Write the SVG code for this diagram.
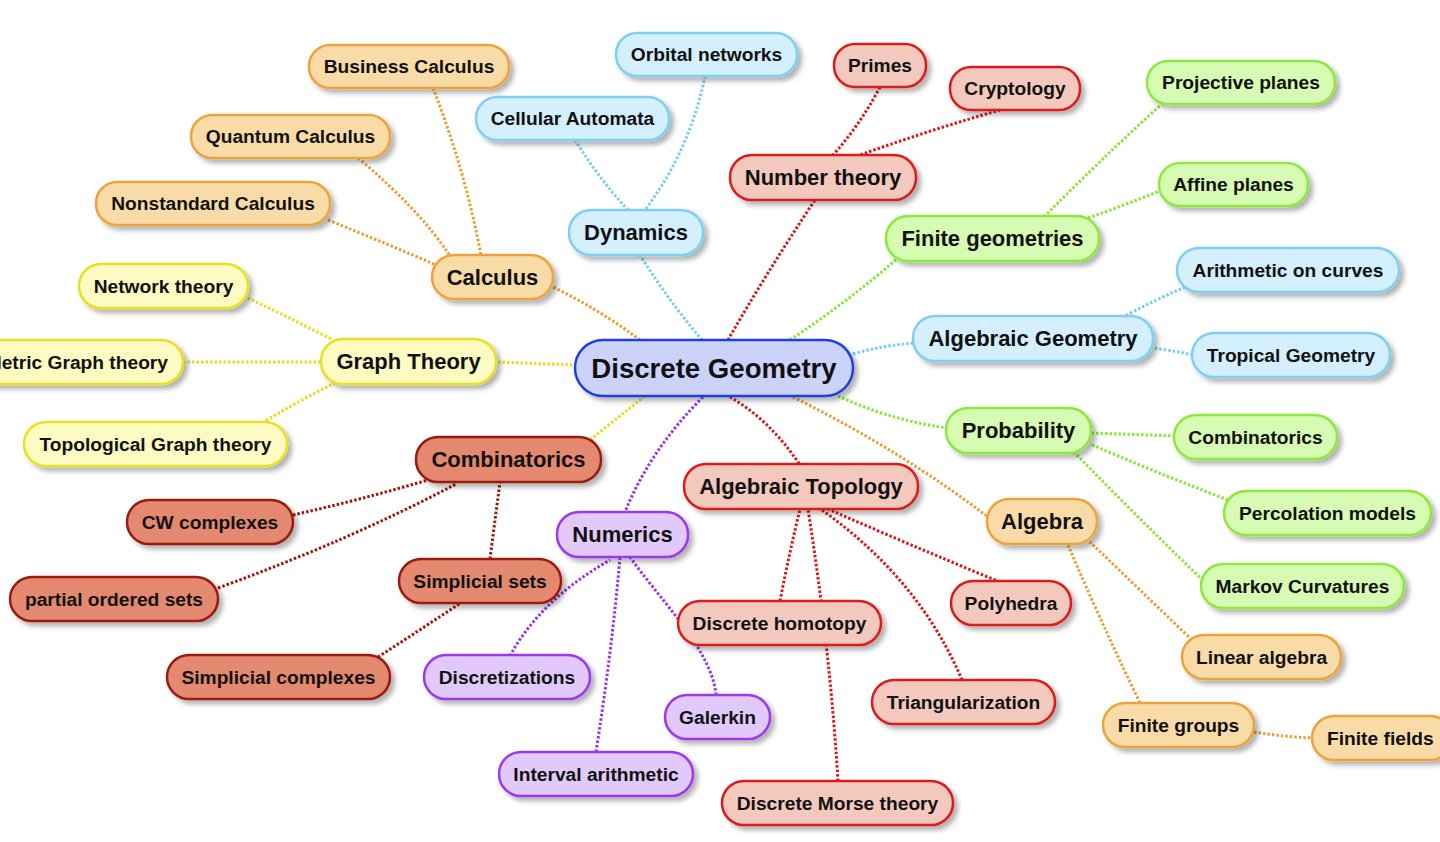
<svg xmlns="http://www.w3.org/2000/svg" width="1440" height="842" viewBox="0 0 1440 842">
<defs>
<filter id="sh" x="-20%" y="-30%" width="140%" height="170%">
<feDropShadow dx="4" dy="4" stdDeviation="2.5" flood-color="#000" flood-opacity="0.3"/>
</filter>
<style>
rect{stroke-width:2.5;filter:url(#sh)}
text{font-family:"Liberation Sans",Arial,sans-serif;font-weight:bold;fill:#111;text-anchor:middle}
.t0{font-size:27.6px}
.t1{font-size:22px}
.t2{font-size:19.2px}
.c rect{fill:#ccd3fb;stroke:#1f3fe0}
.y rect{fill:#fdfbc2;stroke:#e8e020}
.o rect{fill:#f9dba8;stroke:#eba43a}
.b rect{fill:#d4effd;stroke:#7fcff3}
.r rect{fill:#f3c8bd;stroke:#dc1a1a}
.d rect{fill:#e48870;stroke:#981c10}
.g rect{fill:#d6fbb2;stroke:#8ee83a}
.p rect{fill:#e2c9fb;stroke:#9b38f0}
#connectors path{fill:none;stroke-width:3;stroke-dasharray:2.5 2}
.ky{stroke:#e6dd1c}.ko{stroke:#e9a033}.kb{stroke:#7ccbf0}.kr{stroke:#d81818}.kd{stroke:#9a1a12}.kg{stroke:#86e83a}.kp{stroke:#9933ee}
</style>
</defs>
<rect x="0" y="0" width="1440" height="842" fill="#fff" style="filter:none;stroke:none"/>
<g id="connectors">
<path class="ko" d="M640,340 Q600,310 553,287"/>
<path class="kb" d="M702,340 Q668,300 640,255"/>
<path class="kr" d="M728,340 Q765,275 815,200"/>
<path class="kg" d="M790,340 Q850,300 898,258"/>
<path class="kb" d="M853,354 Q885,345 914,343"/>
<path class="kg" d="M838,396 Q890,420 947,428"/>
<path class="ko" d="M793,397 Q900,450 988,517"/>
<path class="kr" d="M730,397 Q770,420 800,465"/>
<path class="kp" d="M703,397 Q650,450 625,512"/>
<path class="ky" d="M645,396 Q615,420 590,440"/>
<path class="ky" d="M577,365 L496,362"/>
<path class="ko" d="M433,88 Q465,170 481,255"/>
<path class="ko" d="M358,158 Q420,210 450,256"/>
<path class="ko" d="M328,220 Q390,245 436,265"/>
<path class="kb" d="M705,76 Q690,150 645,210"/>
<path class="kb" d="M575,140 Q600,180 628,210"/>
<path class="kr" d="M880,87 Q860,125 833,155"/>
<path class="kr" d="M1000,110 Q930,130 860,155"/>
<path class="kg" d="M1163,103 Q1100,160 1045,216"/>
<path class="kg" d="M1162,190 Q1125,205 1088,218"/>
<path class="kb" d="M1185,287 Q1155,300 1125,316"/>
<path class="kb" d="M1193,355 Q1170,350 1153,348"/>
<path class="kg" d="M1175,436 L1092,433"/>
<path class="kg" d="M1228,500 Q1150,470 1090,444"/>
<path class="kg" d="M1213,590 Q1140,520 1075,453"/>
<path class="ko" d="M1192,640 Q1140,590 1090,542"/>
<path class="ko" d="M1140,703 Q1100,620 1068,545"/>
<path class="ko" d="M1254,732 Q1285,737 1314,738"/>
<path class="kr" d="M780,601 Q790,550 800,509"/>
<path class="kr" d="M838,781 Q830,650 808,509"/>
<path class="kr" d="M1000,582 Q910,545 828,509"/>
<path class="kr" d="M962,680 Q920,580 822,510"/>
<path class="kp" d="M510,656 Q540,600 610,560"/>
<path class="kp" d="M596,752 Q612,650 620,557"/>
<path class="kp" d="M716,695 C712,650 660,600 630,557"/>
<path class="kd" d="M490,559 Q495,520 500,482"/>
<path class="kd" d="M218,588 Q350,540 456,484"/>
<path class="kd" d="M293,515 Q360,500 428,480"/>
<path class="kd" d="M378,657 Q420,630 462,602"/>
<path class="ky" d="M248,298 Q290,318 333,340"/>
<path class="ky" d="M183,362 L321,362"/>
<path class="ky" d="M262,423 Q300,400 335,383"/>
</g>

<g id="discrete-geometry" class="c"><rect x="575" y="340" width="278" height="56" rx="28"/><text class="t0" x="714" y="377.5">Discrete Geometry</text></g>

<g id="calculus" class="o"><rect x="432" y="255" width="121" height="44" rx="22"/><text class="t1" x="492.5" y="284.5">Calculus</text></g>
<g id="dynamics" class="b"><rect x="569" y="210" width="134" height="45" rx="22"/><text class="t1" x="636" y="240">Dynamics</text></g>
<g id="number-theory" class="r"><rect x="730" y="155" width="186" height="45" rx="22"/><text class="t1" x="823" y="185">Number theory</text></g>
<g id="finite-geometries" class="g"><rect x="886" y="216" width="213" height="45" rx="22"/><text class="t1" x="992.5" y="246">Finite geometries</text></g>
<g id="algebraic-geometry" class="b"><rect x="913" y="316" width="240" height="45" rx="22"/><text class="t1" x="1033" y="346">Algebraic Geometry</text></g>
<g id="probability" class="g"><rect x="946" y="408" width="145" height="45" rx="22"/><text class="t1" x="1018.5" y="438">Probability</text></g>
<g id="algebra" class="o"><rect x="987" y="499" width="110" height="45" rx="22"/><text class="t1" x="1042" y="529">Algebra</text></g>
<g id="algebraic-topology" class="r"><rect x="684" y="464" width="234" height="45" rx="22"/><text class="t1" x="801" y="494">Algebraic Topology</text></g>
<g id="numerics" class="p"><rect x="557" y="512" width="131" height="45" rx="22"/><text class="t1" x="622.5" y="542">Numerics</text></g>
<g id="combinatorics" class="d"><rect x="416" y="437" width="185" height="45" rx="22"/><text class="t1" x="508.5" y="467">Combinatorics</text></g>
<g id="graph-theory" class="y"><rect x="321" y="339" width="175" height="45" rx="22"/><text class="t1" x="408.5" y="369">Graph Theory</text></g>

<g id="business-calculus" class="o"><rect x="309" y="45" width="200" height="43" rx="21"/><text class="t2" x="409" y="73">Business Calculus</text></g>
<g id="quantum-calculus" class="o"><rect x="191" y="115" width="199" height="43" rx="21"/><text class="t2" x="290.5" y="143">Quantum Calculus</text></g>
<g id="nonstandard-calculus" class="o"><rect x="96" y="182" width="234" height="43" rx="21"/><text class="t2" x="213" y="210">Nonstandard Calculus</text></g>
<g id="orbital-networks" class="b"><rect x="616" y="33" width="181" height="43" rx="21"/><text class="t2" x="706.5" y="61">Orbital networks</text></g>
<g id="cellular-automata" class="b"><rect x="476" y="97" width="193" height="43" rx="21"/><text class="t2" x="572.5" y="125">Cellular Automata</text></g>
<g id="primes" class="r"><rect x="834" y="44" width="92" height="43" rx="21"/><text class="t2" x="880" y="72">Primes</text></g>
<g id="cryptology" class="r"><rect x="950" y="67" width="130" height="43" rx="21"/><text class="t2" x="1015" y="95">Cryptology</text></g>
<g id="projective-planes" class="g"><rect x="1147" y="61" width="188" height="43" rx="21"/><text class="t2" x="1241" y="89">Projective planes</text></g>
<g id="affine-planes" class="g"><rect x="1159" y="163" width="149" height="43" rx="21"/><text class="t2" x="1233.5" y="191">Affine planes</text></g>
<g id="arithmetic-on-curves" class="b"><rect x="1177" y="248" width="222" height="44" rx="22"/><text class="t2" x="1288" y="276.5">Arithmetic on curves</text></g>
<g id="tropical-geometry" class="b"><rect x="1192" y="333" width="198" height="44" rx="22"/><text class="t2" x="1291" y="361.5">Tropical Geometry</text></g>
<g id="combinatorics-prob" class="g"><rect x="1174" y="415" width="163" height="44" rx="22"/><text class="t2" x="1255.5" y="443.5">Combinatorics</text></g>
<g id="percolation-models" class="g"><rect x="1224" y="491" width="207" height="44" rx="22"/><text class="t2" x="1327.5" y="519.5">Percolation models</text></g>
<g id="markov-curvatures" class="g"><rect x="1201" y="564" width="203" height="44" rx="22"/><text class="t2" x="1302.5" y="592.5">Markov Curvatures</text></g>
<g id="linear-algebra" class="o"><rect x="1182" y="635" width="159" height="44" rx="22"/><text class="t2" x="1261.5" y="663.5">Linear algebra</text></g>
<g id="finite-groups" class="o"><rect x="1103" y="703" width="151" height="44" rx="22"/><text class="t2" x="1178.5" y="731.5">Finite groups</text></g>
<g id="finite-fields" class="o"><rect x="1312" y="716" width="140" height="44" rx="22"/><text class="t2" x="1327" y="744.5" style="text-anchor:start">Finite fields</text></g>
<g id="polyhedra" class="r"><rect x="951" y="581" width="120" height="44" rx="22"/><text class="t2" x="1011" y="609.5">Polyhedra</text></g>
<g id="triangularization" class="r"><rect x="872" y="680" width="183" height="44" rx="22"/><text class="t2" x="963.5" y="708.5">Triangularization</text></g>
<g id="discrete-homotopy" class="r"><rect x="678" y="601" width="203" height="44" rx="22"/><text class="t2" x="779.5" y="629.5">Discrete homotopy</text></g>
<g id="discrete-morse-theory" class="r"><rect x="722" y="781" width="231" height="44" rx="22"/><text class="t2" x="837.5" y="809.5">Discrete Morse theory</text></g>
<g id="galerkin" class="p"><rect x="665" y="695" width="105" height="44" rx="22"/><text class="t2" x="717.5" y="723.5">Galerkin</text></g>
<g id="interval-arithmetic" class="p"><rect x="499" y="752" width="194" height="44" rx="22"/><text class="t2" x="596" y="780.5">Interval arithmetic</text></g>
<g id="discretizations" class="p"><rect x="424" y="655" width="166" height="44" rx="22"/><text class="t2" x="507" y="683.5">Discretizations</text></g>
<g id="simplicial-sets" class="d"><rect x="399" y="559" width="162" height="44" rx="22"/><text class="t2" x="480" y="587.5">Simplicial sets</text></g>
<g id="simplicial-complexes" class="d"><rect x="167" y="655" width="223" height="44" rx="22"/><text class="t2" x="278.5" y="683.5">Simplicial complexes</text></g>
<g id="partial-ordered-sets" class="d"><rect x="10" y="577" width="208" height="44" rx="22"/><text class="t2" x="114" y="605.5">partial ordered sets</text></g>
<g id="cw-complexes" class="d"><rect x="127" y="500" width="166" height="44" rx="22"/><text class="t2" x="210" y="528.5">CW complexes</text></g>
<g id="topological-graph-theory" class="y"><rect x="24" y="422" width="263" height="44" rx="22"/><text class="t2" x="155.5" y="450.5">Topological Graph theory</text></g>
<g id="metric-graph-theory" class="y"><rect x="-40" y="340" width="223" height="44" rx="22"/><text class="t2" x="168" y="368.5" style="text-anchor:end">Metric Graph theory</text></g>
<g id="network-theory" class="y"><rect x="79" y="264" width="169" height="44" rx="22"/><text class="t2" x="163.5" y="292.5">Network theory</text></g>
</svg>
